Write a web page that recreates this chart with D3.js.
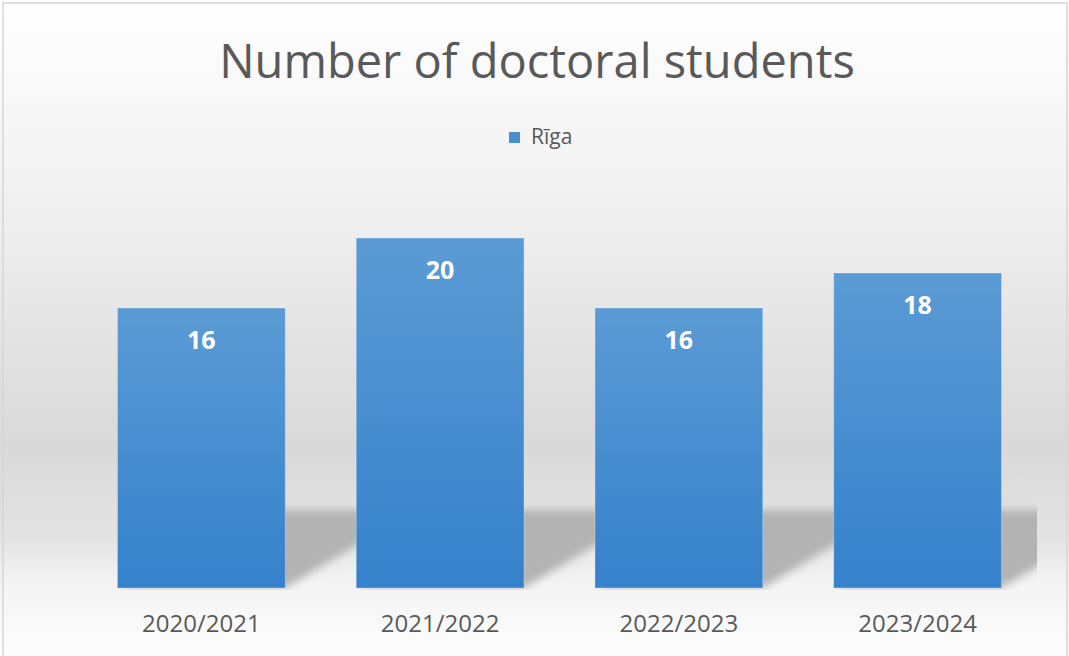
<!DOCTYPE html>
<html>
<head>
<meta charset="utf-8">
<script src="https://cdn.jsdelivr.net/npm/d3@7"></script>
<style>
  html, body { margin: 0; padding: 0; background: #fff; }
  svg { display: block; }
</style>
</head>
<body>
<svg id="chart" width="1069" height="656"></svg>
<script>
// Academic years and doctoral student counts (Rīga)
const categories = ["2020/2021", "2021/2022", "2022/2023", "2023/2024"];
const seriesName = "Rīga";
const values = [16, 20, 16, 18];
const titleText = "Number of doctoral students";

const W = 1069, H = 656;
const plot = { left: 82, right: 1037, top: 150.5, bottom: 588 };

const svg = d3.select("#chart");
const defs = svg.append("defs");

// Chart area background: soft vertical grey gradient
const bg = defs.append("linearGradient").attr("id", "bgGrad")
  .attr("x1", 0).attr("y1", 0).attr("x2", 0).attr("y2", 1);
[[0, "#ffffff"], [0.3, "#f1f1f1"], [0.68, "#d9d9d9"], [0.82, "#e3e3e3"],
 [0.89, "#f4f4f4"], [1, "#fdfdfd"]].forEach(([o, c]) =>
  bg.append("stop").attr("offset", o).attr("stop-color", c));

// Bar fill gradient
const barGrad = defs.append("linearGradient").attr("id", "barGrad")
  .attr("x1", 0).attr("y1", 0).attr("x2", 0).attr("y2", 1);
barGrad.append("stop").attr("offset", 0).attr("stop-color", "#5b9bd5");
barGrad.append("stop").attr("offset", 1).attr("stop-color", "#3581cb");

// Blur for the perspective floor shadow
defs.append("filter").attr("id", "shadowBlur")
  .attr("x", "-20%").attr("y", "-20%").attr("width", "140%").attr("height", "140%")
  .append("feGaussianBlur").attr("stdDeviation", 4);

defs.append("clipPath").attr("id", "plotClip")
  .append("rect")
  .attr("x", plot.left).attr("y", plot.top)
  .attr("width", plot.right - plot.left).attr("height", plot.bottom - plot.top + 2);

svg.append("rect").attr("x", 0).attr("y", 0).attr("width", W).attr("height", H)
  .attr("fill", "url(#bgGrad)");

// Outer border
svg.append("rect").attr("x", 3).attr("y", 3).attr("width", 1064).attr("height", H + 10)
  .attr("fill", "none").attr("stroke", "#d6d6d6").attr("stroke-width", 1.5);

// Scales
const x = d3.scaleBand().domain(categories)
  .range([plot.left, plot.right]).paddingInner(0.297).paddingOuter(0.1485);
const y = d3.scaleLinear().domain([0, 25]).range([plot.bottom, plot.top]);

const data = categories.map((c, i) => ({ cat: c, val: values[i] }));

// Perspective shadows cast back and to the right
const shDx = 130, shDy = 78;
svg.append("g").attr("clip-path", "url(#plotClip)")
  .append("g").attr("filter", "url(#shadowBlur)")
  .selectAll("path").data(data).join("path")
  .attr("fill", "#b3b3b3")
  .attr("d", d => {
    const x0 = x(d.cat), x1 = x0 + x.bandwidth(), b = y(0);
    return `M${x0},${b}L${x1},${b}L${x1 + shDx},${b - shDy}L${x0 + shDx},${b - shDy}Z`;
  });

// Bars
svg.append("g").selectAll("rect").data(data).join("rect")
  .attr("x", d => x(d.cat))
  .attr("y", d => y(d.val))
  .attr("width", x.bandwidth())
  .attr("height", d => y(0) - y(d.val))
  .attr("fill", "url(#barGrad)")
  .attr("stroke", "rgba(255,255,255,0.3)")
  .attr("stroke-width", 1);

// Value labels inside bar tops
svg.append("g").selectAll("text").data(data).join("text")
  .attr("x", d => x(d.cat) + x.bandwidth() / 2)
  .attr("y", d => y(d.val) + 41)
  .attr("text-anchor", "middle")
  .attr("font-family", "'Open Sans', sans-serif")
  .attr("font-weight", 700)
  .attr("font-size", 25)
  .attr("fill", "#ffffff")
  .text(d => d.val);

// Category axis labels
const xAxis = d3.axisBottom(x).tickSize(0).tickPadding(0);
const gx = svg.append("g").attr("transform", `translate(0,${plot.bottom})`).call(xAxis);
gx.select(".domain").remove();
gx.selectAll("text")
  .attr("dy", null)
  .attr("y", 44)
  .attr("font-family", "'Open Sans', sans-serif")
  .attr("font-size", 24)
  .attr("fill", "#595959");

// Title
svg.append("text")
  .attr("x", 537).attr("y", 78)
  .attr("text-anchor", "middle")
  .attr("font-family", "'Open Sans', sans-serif")
  .attr("font-size", 47)
  .attr("fill", "#595959")
  .text(titleText);

// Legend
const legend = svg.append("g").attr("transform", "translate(509,132)");
legend.append("rect").attr("width", 11).attr("height", 11).attr("fill", "#4a8fd2");
legend.append("text").attr("x", 22).attr("y", 12)
  .attr("font-family", "'Open Sans', sans-serif")
  .attr("font-size", 21)
  .attr("fill", "#595959")
  .text(seriesName);
</script>
</body>
</html>
